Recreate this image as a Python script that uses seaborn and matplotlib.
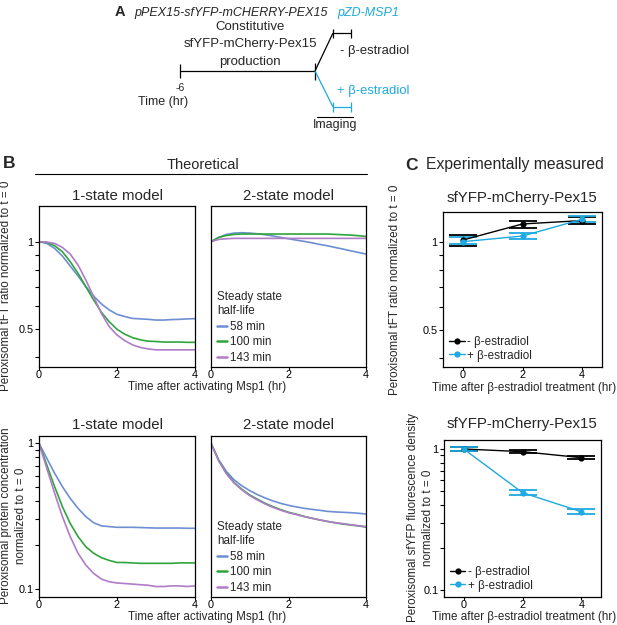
import numpy as np
import pandas as pd
import matplotlib
matplotlib.use("Agg")
import matplotlib.pyplot as plt
import seaborn as sns
from matplotlib.lines import Line2D
from matplotlib.ticker import NullFormatter, FixedLocator

sns.set_style("ticks")
plt.rcParams['font.family'] = ['Liberation Sans', 'DejaVu Sans']
plt.rcParams['axes.linewidth'] = 0.9

# ---------------- data ----------------
time_h = [0.0, 0.2, 0.4, 0.6, 0.8, 1.0, 1.2, 1.4, 1.6, 1.8, 2.0,
          2.2, 2.4, 2.6, 2.8, 3.0, 3.2, 3.4, 3.6, 3.8, 4.0]
half_lives = ["58 min", "100 min", "143 min"]

# tFT ratio, 1-state model
tft_1state_58 = [1.000, 0.987, 0.949, 0.893, 0.825, 0.763, 0.701, 0.651, 0.611, 0.583, 0.563,
                 0.553, 0.545, 0.543, 0.541, 0.538, 0.538, 0.540, 0.541, 0.543, 0.544]
tft_1state_100 = [1.000, 0.995, 0.969, 0.924, 0.854, 0.779, 0.701, 0.631, 0.572, 0.531, 0.500,
                  0.481, 0.468, 0.460, 0.455, 0.454, 0.452, 0.452, 0.452, 0.451, 0.451]
tft_1state_143 = [1.000, 0.997, 0.987, 0.956, 0.907, 0.832, 0.739, 0.648, 0.567, 0.511, 0.478,
                  0.457, 0.442, 0.433, 0.428, 0.425, 0.425, 0.425, 0.425, 0.425, 0.425]
# tFT ratio, 2-state model
tft_2state_58 = [1.000, 1.035, 1.060, 1.071, 1.074, 1.071, 1.065, 1.057, 1.046, 1.035, 1.024,
                 1.013, 1.003, 0.992, 0.979, 0.969, 0.956, 0.944, 0.931, 0.919, 0.907]
tft_2state_100 = [1.000, 1.035, 1.051, 1.060, 1.063, 1.063, 1.063, 1.063, 1.063, 1.063, 1.063,
                  1.063, 1.063, 1.063, 1.063, 1.063, 1.060, 1.057, 1.054, 1.049, 1.043]
tft_2state_143 = [1.000, 1.019, 1.024, 1.027, 1.027, 1.027, 1.027, 1.027, 1.027, 1.027, 1.027,
                  1.027, 1.027, 1.027, 1.027, 1.027, 1.027, 1.027, 1.027, 1.027, 1.027]
# protein concentration, 1-state model
prot_1state_58 = [1.000, 0.789, 0.623, 0.504, 0.419, 0.358, 0.314, 0.285, 0.271, 0.268, 0.265,
                  0.265, 0.265, 0.264, 0.263, 0.262, 0.262, 0.262, 0.262, 0.261, 0.261]
prot_1state_100 = [1.000, 0.710, 0.504, 0.367, 0.282, 0.229, 0.195, 0.176, 0.164, 0.157, 0.152,
                   0.152, 0.151, 0.150, 0.150, 0.150, 0.150, 0.150, 0.151, 0.151, 0.151]
prot_1state_143 = [1.000, 0.674, 0.454, 0.314, 0.229, 0.176, 0.146, 0.128, 0.117, 0.112, 0.110,
                   0.109, 0.108, 0.107, 0.106, 0.104, 0.104, 0.105, 0.105, 0.104, 0.105]
# protein concentration, 2-state model
prot_2state_58 = [1.000, 0.768, 0.639, 0.560, 0.510, 0.473, 0.444, 0.421, 0.402, 0.387, 0.375,
                  0.366, 0.358, 0.352, 0.347, 0.341, 0.338, 0.336, 0.334, 0.331, 0.327]
prot_2state_100 = [1.000, 0.760, 0.622, 0.537, 0.483, 0.442, 0.413, 0.387, 0.367, 0.350, 0.336,
                   0.326, 0.315, 0.306, 0.298, 0.291, 0.285, 0.279, 0.275, 0.271, 0.266]
prot_2state_143 = [1.000, 0.756, 0.616, 0.532, 0.478, 0.437, 0.408, 0.383, 0.363, 0.347, 0.334,
                   0.324, 0.314, 0.306, 0.298, 0.291, 0.285, 0.281, 0.276, 0.272, 0.268]

# experimental data
exp_time = [0, 2, 4]
conditions = ["- \u03b2-estradiol", "+ \u03b2-estradiol"]
tft_minus = [1.013, 1.149, 1.180]
tft_minus_lo = [0.967, 1.116, 1.150]
tft_minus_hi = [1.054, 1.179, 1.212]
tft_plus = [1.000, 1.045, 1.192]
tft_plus_lo = [0.985, 1.024, 1.165]
tft_plus_hi = [1.035, 1.068, 1.225]
dens_minus = [1.000, 0.957, 0.868]
dens_minus_lo = [0.968, 0.932, 0.849]
dens_minus_hi = [1.033, 0.984, 0.887]
dens_plus = [1.000, 0.490, 0.359]
dens_plus_lo = [0.968, 0.472, 0.348]
dens_plus_hi = [1.033, 0.512, 0.373]

model_ticks = [0, 2, 4]

# ---------------- style ----------------
pal = {"58 min": "#6d8fd2", "100 min": "#2fa43c", "143 min": "#b07cc9"}
SKY = "#1fa9e1"
cond_pal = {conditions[0]: "black", conditions[1]: SKY}

W, H = 617, 625
fig = plt.figure(figsize=(W / 100, H / 100), dpi=100)


def rect(l, t, r, b):
    return [l / W, 1 - b / H, (r - l) / W, (b - t) / H]


ov = fig.add_axes([0, 0, 1, 1])
ov.set_xlim(0, W)
ov.set_ylim(H, 0)
ov.axis('off')

TICK_FS = 7.8
LAB_FS = 8.4


def style_log(ax, ylim, major, major_labels, minor, show_y=True):
    ax.set_yscale('log')
    ax.set_ylim(*ylim)
    ax.yaxis.set_major_locator(FixedLocator(major))
    ax.set_yticklabels(major_labels)
    ax.yaxis.set_minor_locator(FixedLocator(minor))
    ax.yaxis.set_minor_formatter(NullFormatter())
    ax.tick_params(axis='y', which='both', direction='out', length=2.6, width=0.8,
                   labelsize=TICK_FS, pad=1.2, colors='black')
    ax.tick_params(axis='x', which='both', direction='out', length=2.0, width=0.8,
                   labelsize=TICK_FS, pad=0.3, colors='black')
    if not show_y:
        ax.tick_params(axis='y', which='both', left=False, labelleft=False)
    for s in ax.spines.values():
        s.set_visible(True)
        s.set_color('black')
        s.set_linewidth(0.9)
    ax.set_xlabel('')
    ax.set_ylabel('')


def model_panel(rc, series, ylim, major, major_labels, minor, show_y, legend=False):
    ax = fig.add_axes(rect(*rc))
    rows = []
    for hl, vals in zip(half_lives, series):
        for t, v in zip(time_h, vals):
            rows.append((t, v, hl))
    df = pd.DataFrame(rows, columns=['t', 'v', 'hl'])
    sns.lineplot(data=df, x='t', y='v', hue='hl', hue_order=half_lives, palette=pal,
                 estimator=None, legend=False, linewidth=1.2, ax=ax)
    ax.set_xlim(0, 4)
    ax.set_xticks(model_ticks)
    ax.set_xticklabels([str(t) for t in model_ticks])
    style_log(ax, ylim, major, major_labels, minor, show_y)
    if legend:
        handles = [Line2D([], [], color=pal[h], lw=1.8) for h in half_lives]
        ax.legend(handles, half_lives, title="Steady state\nhalf-life", loc='lower left',
                  bbox_to_anchor=(0.04, 0.02), frameon=False, fontsize=LAB_FS,
                  title_fontsize=LAB_FS, handlelength=0.85, handletextpad=0.25,
                  labelspacing=0.3, borderpad=0, borderaxespad=0, alignment='left')
    return ax


def exp_panel(rc, minus, mlo, mhi, plus, plo, phi, ylim, major, major_labels, minor):
    ax = fig.add_axes(rect(*rc))
    df = pd.DataFrame({'t': exp_time * 2, 'v': minus + plus,
                       'cond': [conditions[0]] * 3 + [conditions[1]] * 3})
    for cond, v, lo, hi in [(conditions[0], minus, mlo, mhi), (conditions[1], plus, plo, phi)]:
        v = np.array(v); lo = np.array(lo); hi = np.array(hi)
        ax.errorbar(exp_time, v, yerr=[v - lo, hi - v], fmt='none', ecolor=cond_pal[cond],
                    elinewidth=1.0, capsize=10, capthick=1.3, zorder=2)
        sns.lineplot(data=df[df.cond == cond], x='t', y='v', color=cond_pal[cond],
                     marker='o', markersize=4.5, markeredgewidth=0, linewidth=1.0,
                     estimator=None, legend=False, ax=ax, zorder=3)
    ax.set_xlim(-0.67, 4.67)
    ax.set_xticks(exp_time)
    ax.set_xticklabels([str(t) for t in exp_time])
    style_log(ax, ylim, major, major_labels, minor)
    handles = [Line2D([], [], color=cond_pal[c], lw=1.0, marker='o', markersize=4.5,
                      markeredgewidth=0) for c in conditions]
    ax.legend(handles, conditions, loc='lower left', bbox_to_anchor=(0.04, 0.035),
              frameon=False, fontsize=LAB_FS, handlelength=1.3, handletextpad=0.2,
              labelspacing=0.15, borderpad=0, borderaxespad=0)
    return ax


top_minor = [0.4, 0.6, 0.7, 0.8, 0.9]
bot_minor = [0.2, 0.3, 0.4, 0.5, 0.6, 0.7, 0.8, 0.9]

model_panel((39, 206, 195, 367), [tft_1state_58, tft_1state_100, tft_1state_143],
            (0.371, 1.327), [0.5, 1], ["0.5", "1"], top_minor, True)
model_panel((211, 206, 366, 367), [tft_2state_58, tft_2state_100, tft_2state_143],
            (0.371, 1.327), [0.5, 1], ["0.5", "1"], top_minor, False, legend=True)
model_panel((39, 436, 195, 597), [prot_1state_58, prot_1state_100, prot_1state_143],
            (0.0881, 1.122), [0.1, 1], ["0.1", "1"], bot_minor, True)
model_panel((211, 436, 366, 597), [prot_2state_58, prot_2state_100, prot_2state_143],
            (0.0881, 1.122), [0.1, 1], ["0.1", "1"], bot_minor, False, legend=True)

exp_panel((443, 212, 602, 367), tft_minus, tft_minus_lo, tft_minus_hi,
          tft_plus, tft_plus_lo, tft_plus_hi, (0.374, 1.262), [0.5, 1], ["0.5", "1"], top_minor)
exp_panel((444, 440, 601, 597), dens_minus, dens_minus_lo, dens_minus_hi,
          dens_plus, dens_plus_lo, dens_plus_hi, (0.0892, 1.158), [0.1, 1], ["0.1", "1"], bot_minor)

# ---------------- texts / labels ----------------
def T(x, y, s, fs, **kw):
    kw.setdefault('ha', 'center')
    kw.setdefault('va', 'center')
    ov.text(x, y, s, fontsize=fs, **kw)

# panel A schematic
T(120, 12, "A", 10.5, fontweight='bold')
T(134, 13, "pPEX15-sfYFP-mCHERRY-PEX15", 9, ha='left', style='italic')
T(337, 13, "pZD-MSP1", 9, ha='left', style='italic', color=SKY)
T(250, 27, "Constitutive", 9.5)
T(250, 44, "sfYFP-mCherry-Pex15", 9.5)
T(250, 62, "production", 9.5)
T(180, 88, "-6", 7.5)
T(163, 102, "Time (hr)", 9)
T(340, 51, "- \u03b2-estradiol", 9.4, ha='left')
T(337, 91, "+ \u03b2-estradiol", 9.4, ha='left', color=SKY)
T(335, 125, "Imaging", 9)
lk = dict(lw=0.9, solid_capstyle='butt')
ov.plot([180, 315], [71, 71], color='black', **lk)
ov.plot([180, 180], [64, 78], color='black', **lk)
ov.plot([315, 315], [63, 80], color='black', **lk)
ov.plot([315, 333], [71, 33], color='black', **lk)
ov.plot([333, 351], [33, 33], color='black', **lk)
ov.plot([333, 333], [29, 38], color='black', **lk)
ov.plot([351, 351], [29, 38], color='black', **lk)
ov.plot([315, 333], [71, 107], color=SKY, **lk)
ov.plot([333, 351], [107, 107], color=SKY, **lk)
ov.plot([333, 333], [102, 112], color=SKY, **lk)
ov.plot([351, 351], [102, 112], color=SKY, **lk)
ov.plot([317, 353], [117, 117], color='black', lw=0.8)

# panel B / C headers
T(9, 163, "B", 12.5, fontweight='bold')
T(203, 165, "Theoretical", 10.5)
ov.plot([35, 367], [174, 174], color='black', lw=0.8)
T(411, 166, "C", 12.5, fontweight='bold')
T(515, 165, "Experimentally measured", 11.3)

for y in (196, 425):
    T(117, y, "1-state model", 10.8)
    T(288.5, y, "2-state model", 10.8)
T(522, 198, "sfYFP-mCherry-Pex15", 10.8)
T(522, 424, "sfYFP-mCherry-Pex15", 10.8)

# axis labels
T(207, 387, "Time after activating Msp1 (hr)", LAB_FS)
T(207, 617, "Time after activating Msp1 (hr)", LAB_FS)
T(524, 388, "Time after \u03b2-estradiol treatment (hr)", LAB_FS)
T(524, 617, "Time after \u03b2-estradiol treatment (hr)", LAB_FS)
T(6, 286, "Peroxisomal tFT ratio normalized to t = 0", LAB_FS, rotation=90)
T(6, 516, "Peroxisomal protein concentration", LAB_FS, rotation=90)
T(21, 516, "normalized to t = 0", LAB_FS, rotation=90)
T(395, 290, "Peroxisomal tFT ratio normalized to t = 0", LAB_FS, rotation=90)
T(413, 518, "Peroxisomal sfYFP fluorescence density", LAB_FS, rotation=90)
T(428, 518, "normalized to t = 0", LAB_FS, rotation=90)

fig.savefig("out.png", dpi=100)
